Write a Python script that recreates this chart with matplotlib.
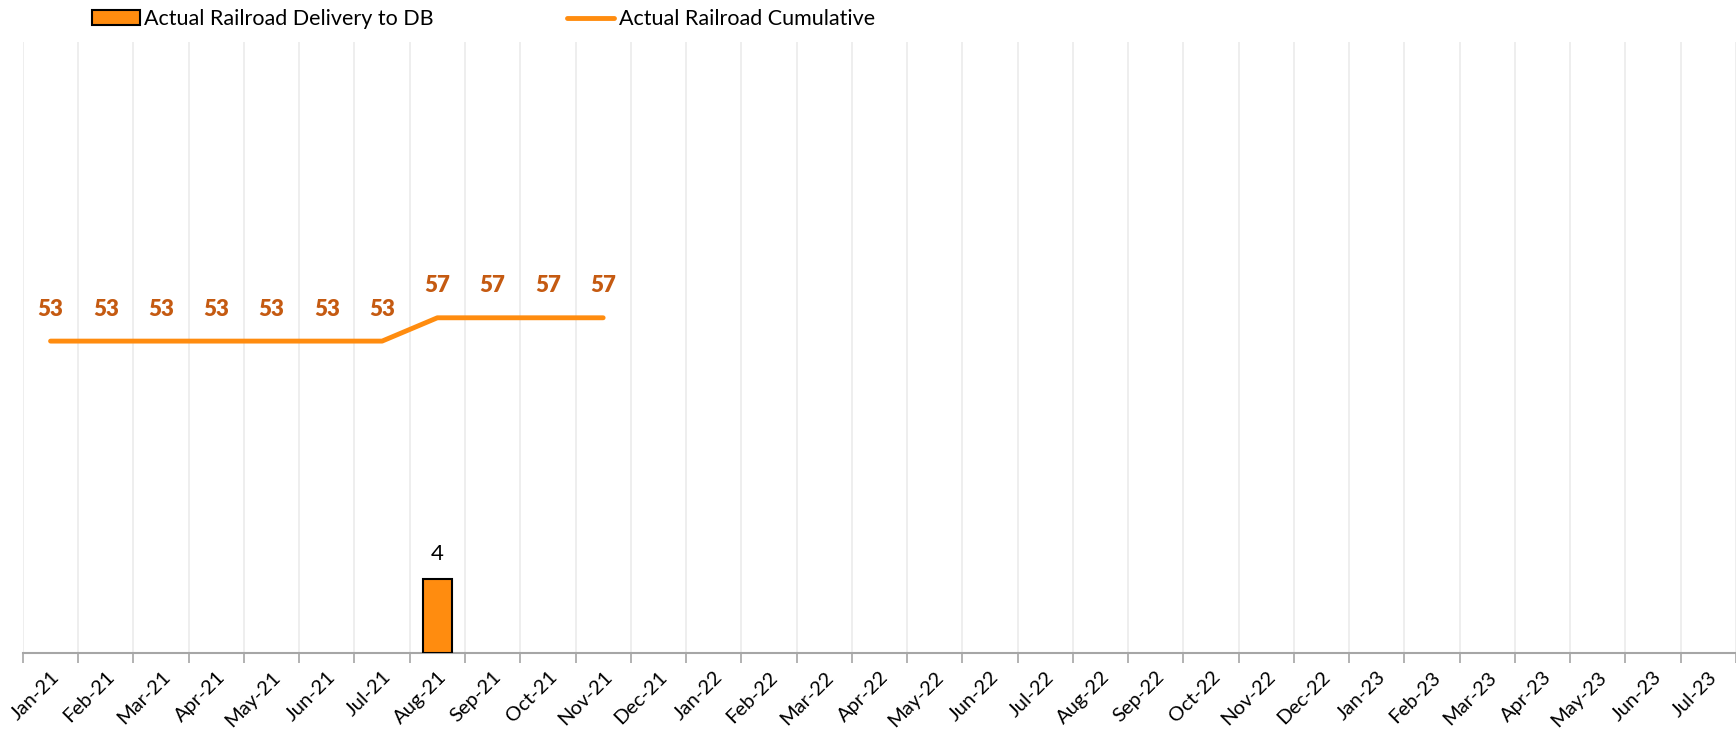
import numpy as np
import matplotlib.pyplot as plt

plt.rcParams['font.family'] = ['Lato', 'DejaVu Sans']

# Data
months = ['Jan-21', 'Feb-21', 'Mar-21', 'Apr-21', 'May-21', 'Jun-21', 'Jul-21',
          'Aug-21', 'Sep-21', 'Oct-21', 'Nov-21', 'Dec-21', 'Jan-22', 'Feb-22',
          'Mar-22', 'Apr-22', 'May-22', 'Jun-22', 'Jul-22', 'Aug-22', 'Sep-22',
          'Oct-22', 'Nov-22', 'Dec-22', 'Jan-23', 'Feb-23', 'Mar-23', 'Apr-23',
          'May-23', 'Jun-23', 'Jul-23']
delivery_months = ['Aug-21']
delivery_values = [4]
cumulative = [53, 53, 53, 53, 53, 53, 53, 57, 57, 57, 57]

x = np.arange(len(months))
deliv_x = [months.index(m) for m in delivery_months]
cum_x = x[:len(cumulative)]

orange = '#FF8C0F'
label_orange = '#C55A11'

fig = plt.figure(figsize=(17.36, 7.29), dpi=100)
ax = fig.add_axes([0.0132, 0.1043, 0.9868, 0.838])
ax2 = ax.twinx()

# bars (primary axis)
bars = ax.bar(deliv_x, delivery_values, width=0.52, color=orange,
              edgecolor='black', linewidth=1.5, zorder=3,
              label='Actual Railroad Delivery to DB')
for xi, v in zip(deliv_x, delivery_values):
    ax.annotate(str(v), (xi, v), xytext=(0, 18), textcoords='offset points',
                ha='center', va='center', fontsize=16, color='black')

# cumulative line (secondary axis)
line, = ax2.plot(cum_x, cumulative, color=orange, linewidth=3.5,
                 solid_capstyle='round', label='Actual Railroad Cumulative')
for xi, v in zip(cum_x, cumulative):
    ax2.annotate(str(v), (xi, v), xytext=(0, 23), textcoords='offset points',
                 ha='center', va='center', fontsize=16, fontweight='heavy',
                 color=label_orange)

ax.set_xlim(-0.5, len(months) - 0.5)
ax.set_ylim(0, 33)
ax2.set_ylim(-0.5, 104.3)

# category ticks at boundaries, labels at centres
ax.set_xticks(x)
ax.set_xticklabels(months, rotation=45, ha='right', rotation_mode='anchor',
                   fontsize=14.5)
ax.tick_params(axis='x', which='major', length=0, pad=11)
ax.set_xticks(np.arange(len(months) + 1) - 0.5, minor=True)
ax.tick_params(axis='x', which='minor', length=7, color='#A6A6A6', width=1.2)
ax.grid(axis='x', which='minor', color='#EBEBEB', linewidth=1.2, zorder=0)

ax.set_yticks([])
ax2.set_yticks([])
for a in (ax, ax2):
    for s in ('top', 'right', 'left'):
        a.spines[s].set_visible(False)
ax2.spines['bottom'].set_visible(False)
ax.spines['bottom'].set_color('#A6A6A6')
ax.spines['bottom'].set_linewidth(1.5)

fig.legend(handles=[bars, line], loc='upper left', bbox_to_anchor=(0.042, 1.014),
           ncol=2, frameon=False, fontsize=15.5, columnspacing=6.2,
           handlelength=2.2, handletextpad=0.2)

fig.savefig('out.png', dpi=100)
